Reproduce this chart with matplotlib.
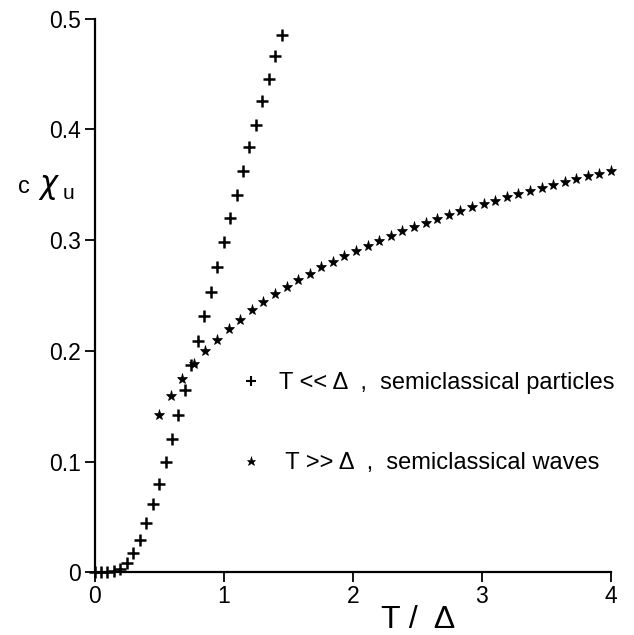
import matplotlib
matplotlib.use("Agg")
import matplotlib.pyplot as plt
from matplotlib.lines import Line2D

plt.rcParams['font.family'] = ['Liberation Sans', 'DejaVu Sans']
plt.rcParams['mathtext.fontset'] = 'dejavusans'

# T << Delta : semiclassical particles
T_particles = [0.00, 0.05, 0.10, 0.15, 0.20, 0.25, 0.30, 0.35, 0.40, 0.45,
               0.50, 0.55, 0.60, 0.65, 0.70, 0.75, 0.80, 0.85, 0.90, 0.95,
               1.00, 1.05, 1.10, 1.15, 1.20, 1.25, 1.30, 1.35, 1.40, 1.45]
chi_particles = [0.0, 0.0, 0.0, 0.0009, 0.003, 0.0081, 0.0175, 0.0295, 0.0441, 0.0616,
                 0.0799, 0.0997, 0.1207, 0.1420, 0.1643, 0.1868, 0.2085, 0.2310, 0.2532, 0.2757,
                 0.2980, 0.3196, 0.3409, 0.3625, 0.3838, 0.4042, 0.4256, 0.4454, 0.4661, 0.4856]

# T >> Delta : semiclassical waves
T_waves = [0.500, 0.590, 0.679, 0.769, 0.859, 0.949, 1.038, 1.128, 1.218, 1.308,
           1.397, 1.487, 1.577, 1.667, 1.756, 1.846, 1.936, 2.026, 2.115, 2.205,
           2.295, 2.385, 2.474, 2.564, 2.654, 2.744, 2.833, 2.923, 3.013, 3.103,
           3.192, 3.282, 3.372, 3.462, 3.551, 3.641, 3.731, 3.821, 3.910, 4.000]
chi_waves = [0.1418, 0.1590, 0.1748, 0.1877, 0.1997, 0.2096, 0.2193, 0.2279, 0.2367, 0.2439,
             0.2514, 0.2577, 0.2640, 0.2697, 0.2754, 0.2805, 0.2856, 0.2905, 0.2950, 0.2995,
             0.3036, 0.3078, 0.3114, 0.3150, 0.3189, 0.3225, 0.3261, 0.3295, 0.3324, 0.3357,
             0.3387, 0.3414, 0.3445, 0.3472, 0.3499, 0.3523, 0.3550, 0.3577, 0.3601, 0.3622]

x_ticks = [0, 1, 2, 3, 4]
x_ticklabels = ["0", "1", "2", "3", "4"]
y_ticks = [0, 0.1, 0.2, 0.3, 0.4, 0.5]
y_ticklabels = ["0", "0.1", "0.2", "0.3", "0.4", "0.5"]

legend_labels = ["T << Δ  ,  semiclassical particles",
                 " T >> Δ  ,  semiclassical waves"]

W, H = 634, 635
fig = plt.figure(figsize=(W / 100, H / 100), dpi=100)
ax = fig.add_axes([94.5 / W, 1 - 572.3 / H, (611 - 94.5) / W, (572.3 - 18.6) / H])

ax.plot(T_particles, chi_particles, linestyle='none', marker='+', markersize=9,
        markeredgewidth=1.8, color='black', clip_on=False)
ax.plot(T_waves, chi_waves, linestyle='none', marker='*', markersize=8,
        markeredgewidth=0.5, color='black', clip_on=False)

ax.set_xlim(0, 4)
ax.set_ylim(0, 0.5)
ax.set_xticks(x_ticks)
ax.set_xticklabels(x_ticklabels)
ax.set_yticks(y_ticks)
ax.set_yticklabels(y_ticklabels)
for s in ['top', 'right']:
    ax.spines[s].set_visible(False)
for s in ['left', 'bottom']:
    ax.spines[s].set_linewidth(1.6)
ax.tick_params(direction='out', length=7, width=1.3, labelsize=16.5, pad=2.5)

handles = [Line2D([], [], linestyle='none', marker='+', markersize=7, markeredgewidth=1.5, color='black'),
           Line2D([], [], linestyle='none', marker='*', markersize=6.5, markeredgewidth=0.4, color='black')]
ax.legend(handles, legend_labels, loc='upper left', frameon=False, fontsize=17,
          handlelength=0.8, handletextpad=0.75, labelspacing=2.45, borderpad=0, borderaxespad=0,
          bbox_to_anchor=(242 / W, 1 - 372 / H), bbox_transform=fig.transFigure)

fig.text(418 / W, 1 - 628 / H, "T /  Δ", fontsize=23, ha='center', va='baseline')
fig.text(18 / W, 1 - 193 / H, "c", fontsize=17, va='baseline')
fig.text(38 / W, 1 - 193 / H, r"$\chi$", fontsize=22, va='baseline')
fig.text(63 / W, 1 - 199 / H, "u", fontsize=15, va='baseline')

fig.savefig("out.png", dpi=100)
